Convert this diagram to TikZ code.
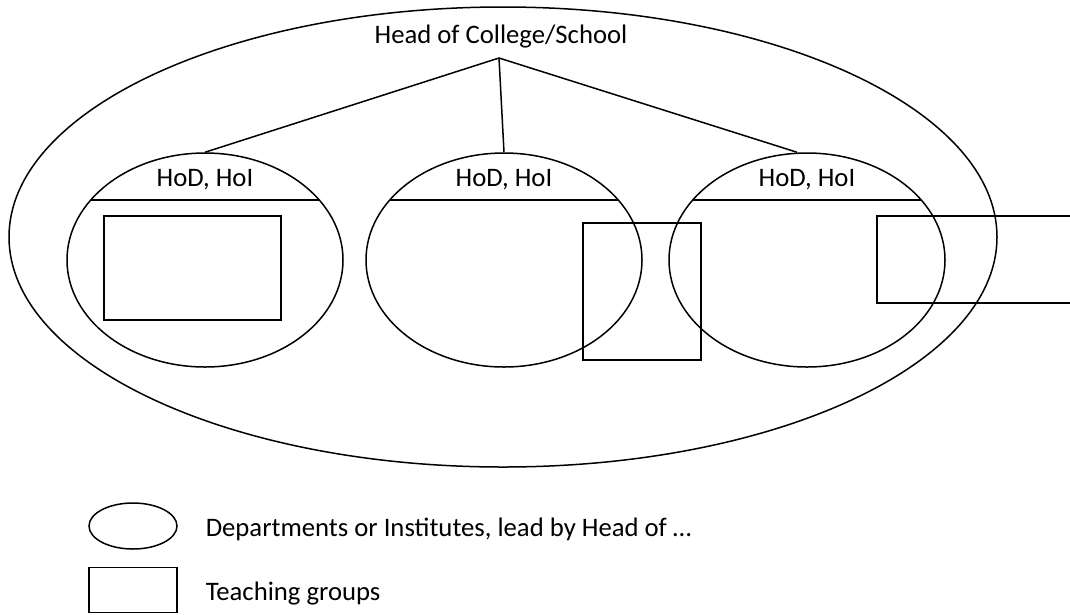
\documentclass[tikz,border=0pt]{standalone}
\usepackage{fontspec}
\setmainfont{Carlito}
\usetikzlibrary{positioning,shapes.geometric,calc}

\begin{document}
\begin{tikzpicture}[
  x=1pt, y=-1pt,
  line width=1.5pt,
  dept/.style={draw, ellipse, minimum width=276pt, minimum height=214pt,
               inner sep=0pt},
  grp/.style={draw, rectangle, inner sep=0pt},
  lbl/.style={font=\fontsize{26.7}{31}\selectfont, inner sep=0pt},
  link/.style={line width=1.5pt}
]
  \useasboundingbox (0,0) rectangle (1070,614);

  % College
  \node[draw, ellipse, minimum width=988pt, minimum height=460pt,
        inner sep=0pt] (college) at (503,237) {};
  \node[lbl] (head) at (501,37) {Head of College/School};
  \coordinate (apex) at (499,58);

  % Departments
  \node[dept] (d1) at (205,260) {};
  \node[dept] (d2) at (504,260) {};
  \node[dept] (d3) at (807,260) {};
  \foreach \d in {d1,d2,d3} {
    \draw ($(\d.center)+(-114,-60)$) -- ($(\d.center)+(114,-60)$);
    \node[lbl] (\d lbl) at ($(\d.center)+(0,-80)$) {HoD, HoI};
  }

  % Links to heads
  \draw[link] (d1.north) -- (apex) -- ([xshift=-10pt]d3.north);
  \draw[link] (apex) -- (d2.north);

  % Teaching groups
  \node[grp, minimum width=177pt, minimum height=104pt, anchor=north west]
    (g1) at (103,215) {};
  \node[grp, minimum width=118pt, minimum height=137pt, anchor=north west]
    (g2) at (582,222) {};
  \node[grp, minimum width=230pt, minimum height=87pt, anchor=north west]
    (g3) at (876,215) {};

  % Legend
  \node[draw, ellipse, minimum width=88pt, minimum height=46pt,
        inner sep=0pt] (keyd) at (133,526) {};
  \node[lbl, anchor=west] (keydtxt) at (205,529)
    {Departments or Institutes, lead by Head of \dots};
  \node[grp, minimum width=88pt, minimum height=45pt] (keyg) at (133,590) {};
  \node[lbl, anchor=west] (keygtxt) at (205,594) {Teaching groups};
\end{tikzpicture}
\end{document}
